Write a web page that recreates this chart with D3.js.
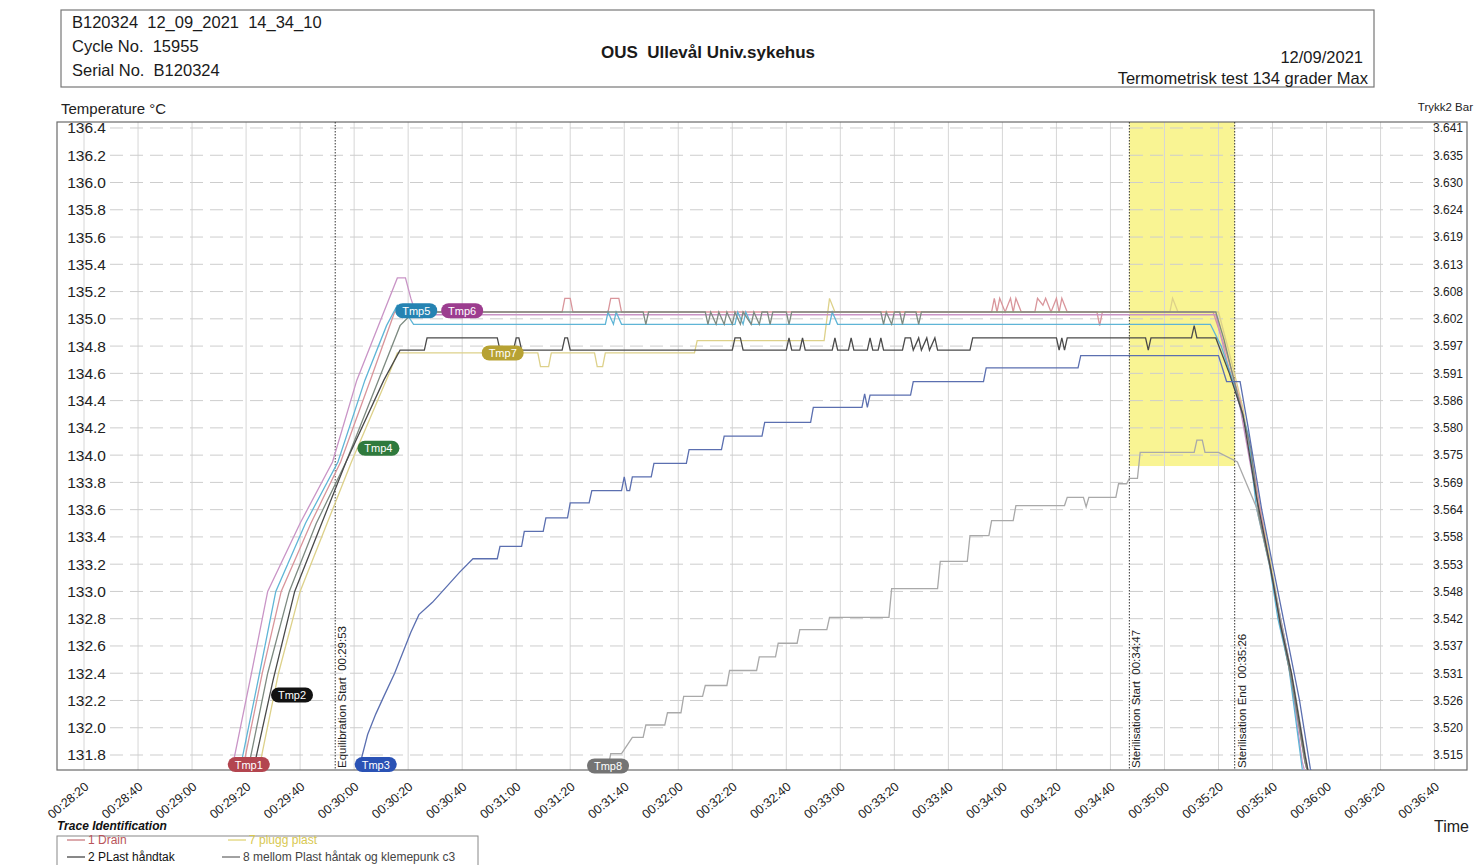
<!DOCTYPE html>
<html>
<head>
<meta charset="utf-8">
<script src="https://cdn.jsdelivr.net/npm/d3@7"></script>
<style>
  body { margin: 0; background: #fff; }
  svg { font-family: "Liberation Sans", Arial, sans-serif; }
  svg text { white-space: pre; }
</style>
</head>
<body>
<div id="chart"></div>
<script>
// time = seconds into the cycle (1800 = 00:30:00), value = °C
const tmp1 = [[1757,131.6],[1759,131.72],[1766,132.4],[1773,133.0],[1784,133.5],[1795,133.95],[1806,134.55],[1815,135.05],
  [1877,135.05],[1878,135.15],[1880,135.15],[1881,135.05],[1894,135.05],[1895,135.15],[1898,135.15],[1899,135.05],
  [2036,135.05],[2037,135.15],[2038,135.05],[2039,135.15],[2041,135.05],[2043,135.15],[2044,135.05],[2045,135.15],[2047,135.05],
  [2052,135.05],[2053,135.15],[2055,135.1],[2056,135.15],[2058,135.05],[2060,135.15],[2061,135.05],[2062,135.15],[2064,135.05],
  [2075,135.05],[2076,134.95],[2077,135.05],
  [2118,135.05],[2123,134.75],[2128,134.4],[2133,133.9],[2138,133.3],[2142,132.85],[2146,132.45],[2152,131.75],[2154,131.6]];

const tmp2 = [[1761,131.6],[1763,131.72],[1770,132.35],[1778,133.0],[1788,133.5],[1797,133.95],[1811,134.55],[1817,134.77],
  [1826,134.77],[1827,134.86],[1853,134.86],[1854,134.77],
  [1859,134.77],[1860,134.86],[1861,134.86],[1862,134.77],[1877,134.77],[1878,134.86],[1879,134.86],[1880,134.77],
  [1940,134.77],[1941,134.86],[1943,134.86],[1944,134.77],[1960,134.77],[1961,134.86],[1962,134.77],[1965,134.77],[1966,134.86],[1967,134.77],
  [1977,134.77],[1978,134.86],[1979,134.77],[1983,134.77],[1984,134.86],[1985,134.77],[1990,134.77],[1991,134.86],[1992,134.77],
  [1994,134.77],[1995,134.86],[1996,134.77],[2003,134.77],[2004,134.86],[2006,134.86],[2007,134.77],[2009,134.86],[2010,134.77],
  [2012,134.86],[2013,134.77],[2015,134.86],[2016,134.77],[2028,134.77],[2029,134.86],
  [2060,134.86],[2061,134.77],[2062,134.86],[2063,134.77],[2064,134.86],[2093,134.86],[2094,134.77],[2095,134.86],
  [2110,134.86],[2111,134.95],[2112,134.86],
  [2119,134.86],[2124,134.6],[2129,134.3],[2134,133.7],[2139,133.2],[2143,132.75],[2147,132.4],[2152,131.8],[2154,131.6]];

const tmp3 = [[1800,131.6],[1802,131.72],[1805,131.95],[1808,132.1],[1811,132.23],[1815,132.4],[1818,132.55],[1821,132.7],
  [1824,132.83],[1829,132.92],[1834,133.03],[1839,133.14],[1844,133.24],[1853,133.24],[1854,133.33],[1862,133.33],[1863,133.44],
  [1870,133.44],[1871,133.54],[1879,133.54],[1880,133.65],[1887,133.65],[1888,133.74],[1899,133.74],[1900,133.84],[1901,133.74],
  [1902,133.74],[1903,133.84],[1910,133.84],[1911,133.94],[1923,133.94],[1924,134.04],[1936,134.04],[1937,134.14],[1951,134.14],
  [1952,134.24],[1969,134.24],[1970,134.35],[1988,134.35],[1989,134.45],[1990,134.35],[1991,134.44],[2006,134.44],[2007,134.54],
  [2033,134.54],[2034,134.64],[2068,134.64],[2069,134.73],[2120,134.73],[2123,134.54],[2128,134.54],[2131,134.2],[2136,133.6],
  [2141,133.1],[2146,132.6],[2150,132.2],[2154,131.7],[2156,131.6]];

const tmp4 = [[1759,131.6],[1761,131.72],[1768,132.4],[1776,133.0],[1786,133.5],[1797,133.95],[1809,134.55],[1817,134.95],[1822,135.05],
  [1907,135.05],[1908,134.96],[1909,135.05],[1930,135.05],[1931,134.96],[1932,135.05],[1934,134.96],[1935,135.05],[1937,134.96],
  [1938,135.05],[1940,134.96],[1941,135.05],[1943,134.96],[1944,135.05],[1947,134.96],[1948,135.05],[1950,134.96],[1951,135.05],
  [1953,135.05],[1954,134.96],[1955,135.05],[1960,135.05],[1961,134.96],[1962,135.05],[1995,135.05],[1996,134.96],[1997,135.05],
  [1999,134.96],[2000,135.05],[2002,135.05],[2003,134.96],[2004,135.05],[2008,135.05],[2009,134.96],[2010,135.05],
  [2119,135.05],[2122,134.85],[2127,134.45],[2132,134.05],[2135,133.55],[2140,133.1],[2143,132.75],[2147,132.35],[2152,131.75],[2154,131.6]];

const tmp5 = [[1756,131.6],[1758,131.72],[1765,132.4],[1771,133.0],[1782,133.5],[1794,133.95],[1804,134.55],[1812,134.95],
  [1816,135.1],[1819,135.05],[1822,134.96],[1893,134.96],[1894,135.05],[1896,134.96],[1897,135.05],[1899,134.96],
  [1941,134.96],[1942,135.05],[1944,134.96],[1945,135.05],[1947,134.96],[1976,134.96],[1977,135.05],[1979,134.96],
  [2117,134.96],[2121,134.8],[2126,134.5],[2131,134.15],[2134,133.62],[2139,133.18],[2142,132.8],[2146,132.45],[2151,131.7],[2153,131.6]];

const tmp6 = [[1753,131.6],[1755,131.72],[1762,132.4],[1768,133.0],[1780,133.5],[1792,133.95],[1801,134.55],[1811,135.05],
  [1816,135.3],[1819,135.3],[1821,135.15],[1823,135.03],[2119,135.03],[2123,134.7],[2128,134.35],[2133,133.8],[2138,133.3],
  [2142,132.9],[2146,132.5],[2151,131.75],[2153,131.6]];

const tmp7 = [[1763,131.6],[1765,131.72],[1772,132.4],[1780,133.0],[1790,133.5],[1799,133.95],[1813,134.6],[1816,134.75],
  [1868,134.75],[1869,134.65],[1872,134.65],[1873,134.75],[1889,134.75],[1890,134.65],[1892,134.65],[1893,134.75],
  [1926,134.75],[1927,134.84],[1974,134.84],[1976,135.15],[1978,135.05],[2102,135.05],[2103,135.15],[2105,135.05],
  [2120,135.05],[2124,134.75],[2129,134.35],[2134,133.75],[2139,133.25],[2143,132.8],[2147,132.4],[2152,131.75],[2154,131.6]];

const tmp8 = [[1893,131.6],[1895,131.81],[1899,131.81],[1903,131.93],[1907,131.93],[1908,132.02],[1915,132.02],[1916,132.11],
  [1921,132.11],[1922,132.23],[1929,132.23],[1930,132.31],[1938,132.31],[1939,132.42],[1949,132.42],[1950,132.52],[1956,132.52],
  [1957,132.62],[1964,132.62],[1965,132.72],[1975,132.72],[1976,132.81],[1998,132.81],[1999,133.02],[2016,133.02],[2017,133.22],
  [2027,133.22],[2028,133.41],[2035,133.41],[2036,133.52],[2044,133.52],[2045,133.63],[2063,133.63],[2064,133.69],[2070,133.69],
  [2071,133.62],[2072,133.69],[2082,133.69],[2083,133.79],[2086,133.79],[2087,133.83],[2090,133.83],[2091,134.02],[2111,134.02],
  [2112,134.11],[2114,134.11],[2115,134.02],[2120,134.02],[2127,133.95],[2134,133.62],[2140,133.1],[2144,132.7],[2148,132.3],
  [2153,131.7],[2155,131.6]];

const traceNames = ['Tmp7', 'Tmp1', 'Tmp6', 'Tmp5', 'Tmp8', 'Tmp4', 'Tmp2', 'Tmp3'];
const traceData = [tmp7, tmp1, tmp6, tmp5, tmp8, tmp4, tmp2, tmp3];
const lineColors = ['#ddd18a', '#d9959b', '#c994c6', '#5fb5d6', '#a9a9a9', '#7d8a80', '#4a4a4a', '#5b6fb0'];
const badgeColors = ['#b7a233', '#b3454f', '#9c3d8f', '#2583b2', '#747474', '#2f7a3d', '#121212', '#2a52b5'];
// badge anchors [time, value]
const badgeAt = [[1855,134.75],[1761,131.73],[1840,135.06],[1823,135.06],[1894,131.72],[1809,134.05],[1777,132.24],[1808,131.73]];

const xTicks = [1700,1720,1740,1760,1780,1800,1820,1840,1860,1880,1900,1920,1940,1960,1980,2000,2020,2040,2060,2080,2100,2120,2140,2160,2180,2200];
const leftTicks = [131.8,132.0,132.2,132.4,132.6,132.8,133.0,133.2,133.4,133.6,133.8,134.0,134.2,134.4,134.6,134.8,135.0,135.2,135.4,135.6,135.8,136.0,136.2,136.4];
const rightTickLabels = ['3.515','3.520','3.526','3.531','3.537','3.542','3.548','3.553','3.558','3.564','3.569','3.575',
  '3.580','3.586','3.591','3.597','3.602','3.608','3.613','3.619','3.624','3.630','3.635','3.641'];

const eventNames = ['Equilibration Start  00:29:53', 'Sterilisation Start  00:34:47', 'Sterilisation End  00:35:26'];
const eventTimes = [1793, 2087, 2126];
const bandLow = 133.92;

const headerLeft = ['B120324  12_09_2021  14_34_10', 'Cycle No.  15955', 'Serial No.  B120324'];
const headerTitle = 'OUS  Ullevål Univ.sykehus';
const headerRight = ['12/09/2021', 'Termometrisk test 134 grader Max'];

const legendNames = ['1 Drain', '2 PLast håndtak', '7 plugg plast', '8 mellom Plast håntak og klemepunk c3'];
const legendColors = ['#b9545a', '#111', '#d8c850', '#444'];

const W = 1475, H = 865;
const plot = {left: 57, right: 1467, top: 122, bottom: 770};

const svg = d3.select('#chart').append('svg').attr('width', W).attr('height', H);
svg.append('rect').attr('width', W).attr('height', H).attr('fill', '#fff');

const x = d3.scaleLinear().domain([1690, 2212]).range([plot.left, plot.right]);
const y = d3.scaleLinear().domain([131.69, 136.444]).range([plot.bottom, plot.top]);

const fmtTime = s => `00:${String(Math.floor(s / 60)).padStart(2, '0')}:${String(s % 60).padStart(2, '0')}`;

// header box
svg.append('rect').attr('x', 61).attr('y', 10).attr('width', 1313).attr('height', 77)
    .attr('fill', 'none').attr('stroke', '#777').attr('stroke-width', 1.2);
svg.selectAll('.hl').data(headerLeft).join('text').attr('class', 'hl')
    .attr('x', 72).attr('y', (d, i) => 28 + i * 24).style('font-size', '16.5px').attr('fill', '#1a1a1a').text(d => d);
svg.append('text').attr('x', 708).attr('y', 58).attr('text-anchor', 'middle')
    .style('font-size', '17px').style('font-weight', 'bold').attr('fill', '#1a1a1a').text(headerTitle);
svg.selectAll('.hr').data(headerRight).join('text').attr('class', 'hr')
    .attr('x', (d, i) => 1363 + i * 5).attr('y', (d, i) => 63 + i * 21).attr('text-anchor', 'end')
    .style('font-size', '16.5px').attr('fill', '#1a1a1a').text(d => d);

// axis titles
svg.append('text').attr('x', 61).attr('y', 114).style('font-size', '15px').attr('fill', '#222').text('Temperature °C');
svg.append('text').attr('x', 1473).attr('y', 111).attr('text-anchor', 'end').style('font-size', '11.5px').attr('fill', '#222').text('Trykk2 Bar');
svg.append('text').attr('x', 1469).attr('y', 832).attr('text-anchor', 'end').style('font-size', '16px').attr('fill', '#222').text('Time');

// sterilisation band
svg.append('rect')
    .attr('x', x(eventTimes[1])).attr('y', plot.top)
    .attr('width', x(eventTimes[2]) - x(eventTimes[1]))
    .attr('height', y(bandLow) - plot.top)
    .attr('fill', '#f9f493');

// grid
svg.append('g').selectAll('line').data(xTicks).join('line')
    .attr('x1', d => x(d)).attr('x2', d => x(d)).attr('y1', plot.top).attr('y2', plot.bottom)
    .attr('stroke', '#d6d6d6').attr('stroke-width', 1);
svg.append('g').selectAll('line').data(leftTicks).join('line')
    .attr('x1', 110).attr('x2', 1428).attr('y1', d => y(d)).attr('y2', d => y(d))
    .attr('stroke', '#cdcdcd').attr('stroke-width', 1).attr('stroke-dasharray', '13,7');

// plot frame
svg.append('rect').attr('x', plot.left).attr('y', plot.top)
    .attr('width', plot.right - plot.left).attr('height', plot.bottom - plot.top)
    .attr('fill', 'none').attr('stroke', '#6a6a6a').attr('stroke-width', 1.2);

// event markers
const ev = svg.append('g');
ev.selectAll('line').data(eventTimes).join('line')
    .attr('x1', d => x(d)).attr('x2', d => x(d)).attr('y1', plot.top).attr('y2', plot.bottom)
    .attr('stroke', '#333').attr('stroke-width', 1).attr('stroke-dasharray', '1.5,1.5');
ev.selectAll('text').data(eventTimes).join('text')
    .attr('transform', d => `translate(${x(d) + 11},${plot.bottom - 2}) rotate(-90)`)
    .style('font-size', '11.5px').attr('fill', '#222')
    .text((d, i) => eventNames[i]);

// traces
svg.append('clipPath').attr('id', 'clip').append('rect')
    .attr('x', plot.left).attr('y', plot.top).attr('width', plot.right - plot.left).attr('height', plot.bottom - plot.top);

const line = d3.line().x(d => x(d[0])).y(d => y(d[1])).curve(d3.curveLinear);

svg.append('g').attr('clip-path', 'url(#clip)')
    .selectAll('path').data(traceData).join('path')
    .attr('d', line).attr('fill', 'none')
    .attr('stroke', (d, i) => lineColors[i]).attr('stroke-width', 1.3);

// axes
const yAxis = d3.axisLeft(y).tickValues(leftTicks).tickSize(0).tickPadding(0).tickFormat(d3.format('.1f'));
const gy = svg.append('g').attr('transform', 'translate(106,0)').call(yAxis)
    .attr('font-size', null).attr('font-family', null);
gy.select('.domain').remove();
gy.selectAll('text').style('font-size', '15.5px').attr('fill', '#222');

const yAxisR = d3.axisLeft(y).tickValues(leftTicks).tickSize(0).tickPadding(0).tickFormat((d, i) => rightTickLabels[i]);
const gyr = svg.append('g').attr('transform', 'translate(1463,0)').call(yAxisR)
    .attr('font-size', null).attr('font-family', null);
gyr.select('.domain').remove();
gyr.selectAll('text').style('font-size', '12px').attr('fill', '#222');

const xAxis = d3.axisBottom(x).tickValues(xTicks).tickSize(0).tickFormat(fmtTime);
const gx = svg.append('g').attr('transform', `translate(0,${plot.bottom})`).call(xAxis)
    .attr('font-size', null).attr('font-family', null);
gx.select('.domain').remove();
gx.selectAll('text')
    .attr('y', 0).attr('dy', 0).attr('text-anchor', 'end')
    .attr('transform', 'translate(5,18) rotate(-40)')
    .style('font-size', '12.5px').attr('fill', '#222');

// badges
const badges = svg.append('g').selectAll('g').data(traceNames).join('g')
    .attr('transform', (d, i) => `translate(${x(badgeAt[i][0])},${y(badgeAt[i][1])})`);
badges.append('rect').attr('x', -21).attr('y', -7.5).attr('width', 42).attr('height', 15).attr('rx', 7.5)
    .attr('fill', (d, i) => badgeColors[i]);
badges.append('text').attr('text-anchor', 'middle').attr('dy', '0.36em')
    .style('font-size', '11px').attr('fill', '#fff').text(d => d);

// legend
svg.append('text').attr('x', 57).attr('y', 830).style('font-size', '12px')
    .style('font-weight', 'bold').style('font-style', 'italic').attr('fill', '#111').text('Trace Identification');
svg.append('rect').attr('x', 57).attr('y', 836).attr('width', 421).attr('height', 40)
    .attr('fill', 'none').attr('stroke', '#888');
const legendPos = [[67, 844], [67, 861], [228, 844], [222, 861]];
const lg = svg.append('g').selectAll('g').data(legendNames).join('g')
    .attr('transform', (d, i) => `translate(${legendPos[i][0]},${legendPos[i][1]})`);
lg.append('line').attr('x1', 0).attr('x2', 18).attr('y1', -4).attr('y2', -4)
    .attr('stroke', (d, i) => legendColors[i]).attr('stroke-width', 1);
lg.append('text').attr('x', 21).style('font-size', '12px').attr('fill', (d, i) => legendColors[i]).text(d => d);
</script>
</body>
</html>
